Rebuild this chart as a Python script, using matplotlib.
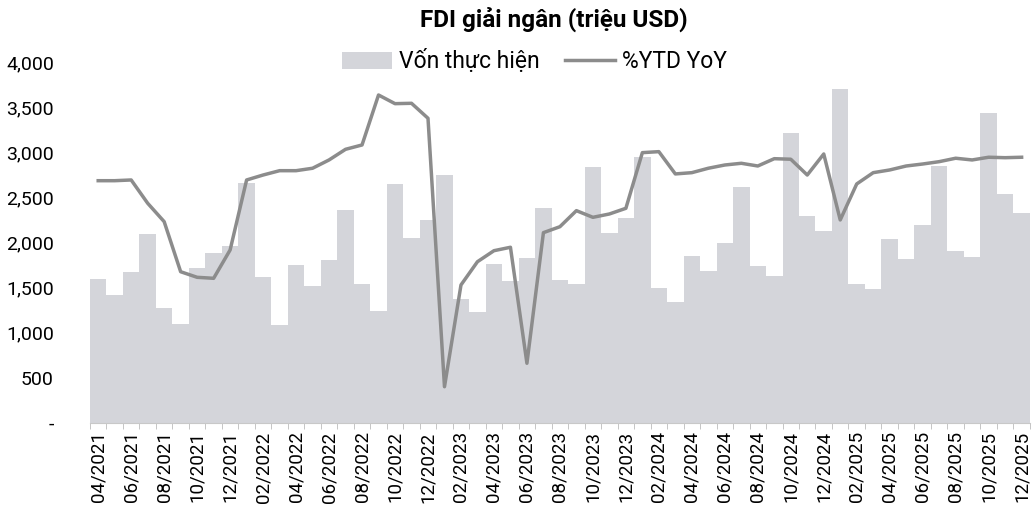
import matplotlib
matplotlib.use("Agg")
import matplotlib.pyplot as plt
import numpy as np
from matplotlib.ticker import FuncFormatter

plt.rcParams['font.family'] = ['Roboto', 'DejaVu Sans']

# ---- data ----
months = [f"{m:02d}/{y}" for y in range(2021, 2026) for m in range(1, 13)]
months = months[3:]  # 04/2021 .. 12/2025

von_thuc_hien = [
    1600, 1420, 1670, 2100, 1270, 1100, 1715, 1880, 1960,          # 04-12/2021
    2660, 1620, 1090, 1750, 1520, 1810, 2360, 1540, 1245, 2650, 2050, 2250,  # 2022
    2750, 1370, 1225, 1760, 1570, 1825, 2380, 1585, 1540, 2840, 2110, 2270,  # 2023
    2950, 1500, 1345, 1850, 1690, 2000, 2620, 1740, 1630, 3210, 2290, 2130,  # 2024
    3700, 1540, 1480, 2045, 1815, 2195, 2850, 1910, 1835, 3440, 2540, 2330,  # 2025
]

# %YTD YoY line, expressed on the (unlabelled) secondary axis scale
ytd_yoy = [
    2686, 2686, 2694, 2436, 2232, 1677, 1615, 1604, 1918,
    2694, 2749, 2797, 2797, 2824, 2916, 3034, 3082, 3636, 3540, 3544, 3378,
    402, 1530, 1788, 1910, 1948, 662, 2110, 2176, 2354, 2280, 2317, 2380,
    2997, 3008, 2761, 2775, 2824, 2860, 2879, 2849, 2930, 2924, 2749, 2982,
    2251, 2650, 2775, 2805, 2849, 2871, 2897, 2935, 2916, 2946, 2941, 2946,
]

title = "FDI giải ngân (triệu USD)"
bar_label = "Vốn thực hiện"
line_label = "%YTD YoY"

# ---- plot ----
fig = plt.figure(figsize=(10.34, 5.18), dpi=100)
ax = fig.add_axes([0.087, 0.1834, 0.909, 0.6966])
x = np.arange(len(months))
bars = ax.bar(x, von_thuc_hien, width=1.0, color="#d4d5da", edgecolor="none",
              label=bar_label, zorder=1)
ax.set_xlim(-0.5, len(months) - 0.5)
ax.set_ylim(0, 4000)
ax.set_yticks(np.arange(0, 4001, 500))
ax.yaxis.set_major_formatter(FuncFormatter(lambda v, p: "-" if v == 0 else f"{int(v):,}"))
ax.tick_params(axis="y", length=0, labelsize=14, pad=26)

ax.set_xticks(x[::2])
ax.set_xticklabels(months[::2], rotation=90, fontsize=13.5)
ax.set_xticks(np.arange(-0.5, len(months), 1), minor=True)
ax.tick_params(axis="x", which="major", length=0, pad=6)
ax.tick_params(axis="x", which="minor", length=4, color="#bbbbbb")

for s in ["top", "right", "left"]:
    ax.spines[s].set_visible(False)
ax.spines["bottom"].set_color("#c8c8c8")

ax2 = ax.twinx()
line, = ax2.plot(x, ytd_yoy, color="#8c8c8c", linewidth=2.5, label=line_label, zorder=3)
ax2.set_ylim(0, 4000)
ax2.set_yticks([])
for s in ax2.spines.values():
    s.set_visible(False)

fig.text(0.536, 0.962, title, ha="center", va="center", fontsize=17.5, fontweight="bold")
fig.legend([bars, line], [bar_label, line_label], loc="center", bbox_to_anchor=(0.517, 0.882),
           ncol=2, frameon=False, fontsize=16.5, handlelength=2.2, handleheight=0.75,
           columnspacing=1.1, handletextpad=0.3)

fig.savefig("out.png", dpi=100, facecolor="white")
